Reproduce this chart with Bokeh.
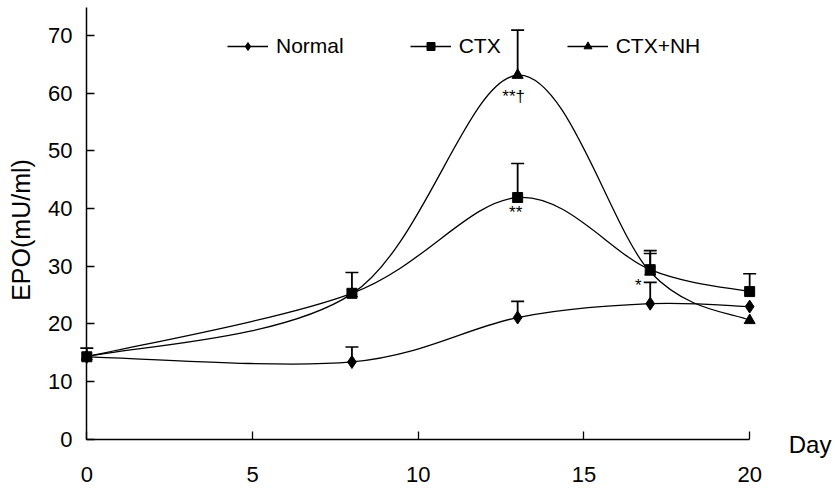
import numpy as np
from bokeh.plotting import figure
from bokeh.models import (ColumnDataSource, FixedTicker, Whisker, TeeHead,
                          Legend, LegendItem, LinearAxis)
from bokeh.core.properties import value
from bokeh.embed import file_html
from bokeh.resources import INLINE

# ---- data ----
days = [0, 8, 13, 17, 20]
normal = [14.3, 13.4, 21.1, 23.5, 23.0]
normal_sd = [1.5, 2.6, 2.8, 3.7, np.nan]
ctx = [14.3, 25.3, 41.9, 29.4, 25.6]
ctx_sd = [np.nan, 3.6, 5.9, 2.8, 3.1]
nh = [14.3, 25.2, 63.1, 29.0, 20.6]
nh_sd = [np.nan, np.nan, 7.8, 3.7, np.nan]
series_names = ["Normal", "CTX", "CTX+NH"]
x_ticks = [0, 5, 10, 15, 20]
y_ticks = [0, 10, 20, 30, 40, 50, 60, 70]
x_title = "Day"
y_title = "EPO(mU/ml)"

FONT = "Liberation Sans"


def smooth_segments(xs, ys):
    """Cubic Bezier control points of a smoothed line through the points."""
    P = np.column_stack([xs, ys]).astype(float)
    ext = np.vstack([P[0], P, P[-1]])
    keys = ("x0", "y0", "x1", "y1", "cx0", "cy0", "cx1", "cy1")
    seg = {k: [] for k in keys}
    for i in range(len(P) - 1):
        pp, p0, p1, pn = ext[i], ext[i + 1], ext[i + 2], ext[i + 3]
        c0 = p0 + (p1 - pp) / 6.0
        c1 = p1 - (pn - p0) / 6.0
        for k, v in zip(keys, (p0[0], p0[1], p1[0], p1[1], c0[0], c0[1], c1[0], c1[1])):
            seg[k].append(v)
    return ColumnDataSource(seg)


p = figure(width=835, height=492, output_backend="svg", toolbar_location=None,
           x_range=(-0.25, 22.59), y_range=(-3.5, 76.04),
           min_border_left=78, min_border_right=0, min_border_top=0,
           min_border_bottom=33)
p.outline_line_color = None
p.xgrid.visible = False
p.ygrid.visible = False
p.background_fill_color = "white"
p.border_fill_color = "white"

# label-only axes at the frame edges
for ax in (p.xaxis, p.yaxis):
    ax.axis_line_color = None
    ax.major_tick_line_color = None
    ax.minor_tick_line_color = None
    ax.major_label_text_font = FONT
    ax.major_label_text_font_size = "22px"
    ax.major_label_text_color = "black"
p.xaxis.ticker = FixedTicker(ticks=x_ticks)
p.xaxis.major_label_standoff = 1
p.yaxis.ticker = FixedTicker(ticks=y_ticks)
p.yaxis.major_label_standoff = 0
p.yaxis.axis_label = y_title
p.yaxis.axis_label_text_font = FONT
p.yaxis.axis_label_text_font_size = "25px"
p.yaxis.axis_label_text_font_style = "normal"
p.yaxis.axis_label_text_color = "black"
p.yaxis.axis_label_standoff = 10

# axis lines with inward ticks crossing at the origin
def line_axis(ticks, bounds):
    return LinearAxis(fixed_location=0, ticker=FixedTicker(ticks=ticks),
                      bounds=bounds, axis_line_color="black",
                      axis_line_width=1.5, major_tick_line_color="black",
                      major_tick_line_width=1.3, major_tick_in=8,
                      major_tick_out=0, minor_tick_line_color=None,
                      major_label_overrides={t: "" for t in ticks},
                      major_label_text_font_size="0px",
                      major_label_standoff=0)

p.add_layout(line_axis(y_ticks, (0, 74.8)), "left")
p.add_layout(line_axis(x_ticks, (0, 20)), "below")

markers = [dict(marker="diamond", size=13),
           dict(marker="square", size=10),
           dict(marker="triangle", size=11)]

items = []
for name, vals, sd, mk in zip(series_names, [normal, ctx, nh],
                              [normal_sd, ctx_sd, nh_sd], markers):
    src = smooth_segments(days, vals)
    curve = p.bezier(x0="x0", y0="y0", x1="x1", y1="y1", cx0="cx0", cy0="cy0",
                     cx1="cx1", cy1="cy1", source=src, line_color="black",
                     line_width=1.3)
    b, lo, up = [], [], []
    for d, v, s in zip(days, vals, sd):
        if not np.isnan(s):
            b.append(d); lo.append(v); up.append(v + s)
    wsrc = ColumnDataSource(dict(base=b, lower=lo, upper=up))
    w = Whisker(source=wsrc, base="base", lower="lower", upper="upper",
                dimension="height", lower_head=None,
                upper_head=TeeHead(size=13, line_width=1.6, line_color="black"),
                line_width=1.8, line_color="black")
    p.add_layout(w)
    sc = p.scatter(days, vals, marker=mk["marker"], size=mk["size"],
                   fill_color="black", line_color="black")
    items.append(LegendItem(label=name, renderers=[curve, sc]))

legend = Legend(items=items, orientation="horizontal", location=(149, 401),
                glyph_width=41, glyph_height=20, label_standoff=8, spacing=66,
                padding=0, margin=0, border_line_color=None,
                background_fill_alpha=0, label_text_font=FONT,
                label_text_font_size="21px", label_text_color="black")
p.add_layout(legend)

# significance marks
sig_font = dict(text_align="center", text_baseline="middle",
                text_font=value(FONT), text_font_size="17px", text_color="black")
p.text(x=[days[2]], y=[nh[2]], text=["**\u2020"], x_offset=-4, y_offset=21, **sig_font)
p.text(x=[days[2]], y=[ctx[2]], text=["**"], x_offset=-2, y_offset=15, **sig_font)
p.text(x=[days[3]], y=[normal[3]], text=["*"], x_offset=-12, y_offset=-18, **sig_font)

# x-axis title to the right of the axis end
p.text(x=[21.18], y=[-0.85], text=[x_title], text_align="left",
       text_baseline="middle", text_font=value(FONT), text_font_size="24px",
       text_color="black")

open("out.html", "w").write(file_html(p, INLINE))
